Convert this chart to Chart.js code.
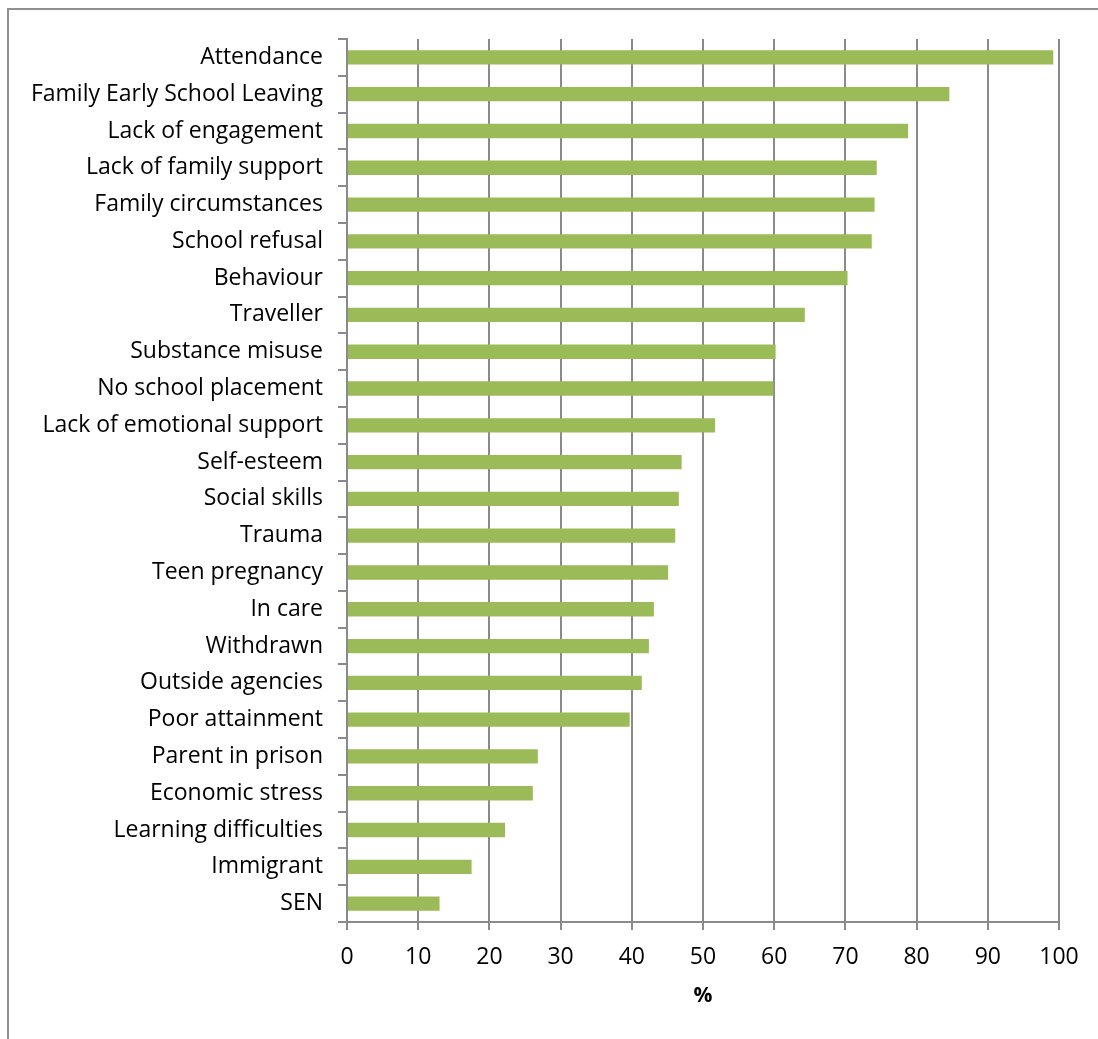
<!DOCTYPE html>
<html>
<head>
<meta charset="utf-8">
<title>Risk factors</title>
<script src="https://cdn.jsdelivr.net/npm/chart.js@4.4.1/dist/chart.umd.min.js"></script>
<style>
  html, body { margin: 0; padding: 0; background: #fff; }
  .frame {
    position: absolute; left: 7px; top: 8px; width: 1200px; height: 1200px;
    border-left: 2px solid #8f8f8f; border-top: 2px solid #8f8f8f;
  }
  #riskChart { position: absolute; left: 0; top: 0; }
</style>
</head>
<body>
<div class="frame"></div>
<canvas id="riskChart" width="1098" height="1039"></canvas>
<script>
var categories = [
  'Attendance', 'Family Early School Leaving', 'Lack of engagement', 'Lack of family support',
  'Family circumstances', 'School refusal', 'Behaviour', 'Traveller', 'Substance misuse',
  'No school placement', 'Lack of emotional support', 'Self-esteem', 'Social skills', 'Trauma',
  'Teen pregnancy', 'In care', 'Withdrawn', 'Outside agencies', 'Poor attainment',
  'Parent in prison', 'Economic stress', 'Learning difficulties', 'Immigrant', 'SEN'
];
var percentages = [
  99.2, 84.6, 78.8, 74.4, 74.1, 73.7, 70.3, 64.3, 60.2, 59.9, 51.7, 47.0,
  46.6, 46.1, 45.1, 43.1, 42.4, 41.4, 39.7, 26.8, 26.1, 22.2, 17.5, 13.0
];
var xTicks = [0, 10, 20, 30, 40, 50, 60, 70, 80, 90, 100];

(function () {
  var axisGrey = '#8a8a8a';
  var labelFont = { family: '"Open Sans", sans-serif', size: 23 };

  new Chart(document.getElementById('riskChart'), {
    type: 'bar',
    data: {
      labels: categories,
      datasets: [{
        data: percentages,
        backgroundColor: '#9BBB59',
        borderWidth: 0,
        barPercentage: 0.39,
        categoryPercentage: 1,
      }],
    },
    options: {
      indexAxis: 'y',
      responsive: false,
      animation: false,
      layout: { padding: { left: 0, top: 39, right: 39, bottom: 0 } },
      plugins: { legend: { display: false }, tooltip: { enabled: false } },
      scales: {
        x: {
          min: 0,
          max: 100,
          afterBuildTicks: function (scale) {
            scale.ticks = xTicks.map(function (v) { return { value: v }; });
          },
          afterFit: function (scale) { scale.height = 1039 - 922; },
          grid: { color: axisGrey, lineWidth: 2, tickLength: 8, drawTicks: true },
          border: { color: axisGrey, width: 2 },
          ticks: { color: '#000', font: labelFont, padding: 14 },
          title: {
            display: true,
            text: '%',
            color: '#000',
            font: { family: labelFont.family, size: 21, weight: 'bold' },
            padding: { top: 0, bottom: 30 },
          },
        },
        y: {
          afterFit: function (scale) { scale.width = 347; },
          grid: { drawOnChartArea: false, color: axisGrey, lineWidth: 2, tickLength: 9 },
          border: { color: axisGrey, width: 2 },
          ticks: { color: '#000', font: labelFont, padding: 15, autoSkip: false },
        },
      },
    },
  });
})();
</script>
</body>
</html>
